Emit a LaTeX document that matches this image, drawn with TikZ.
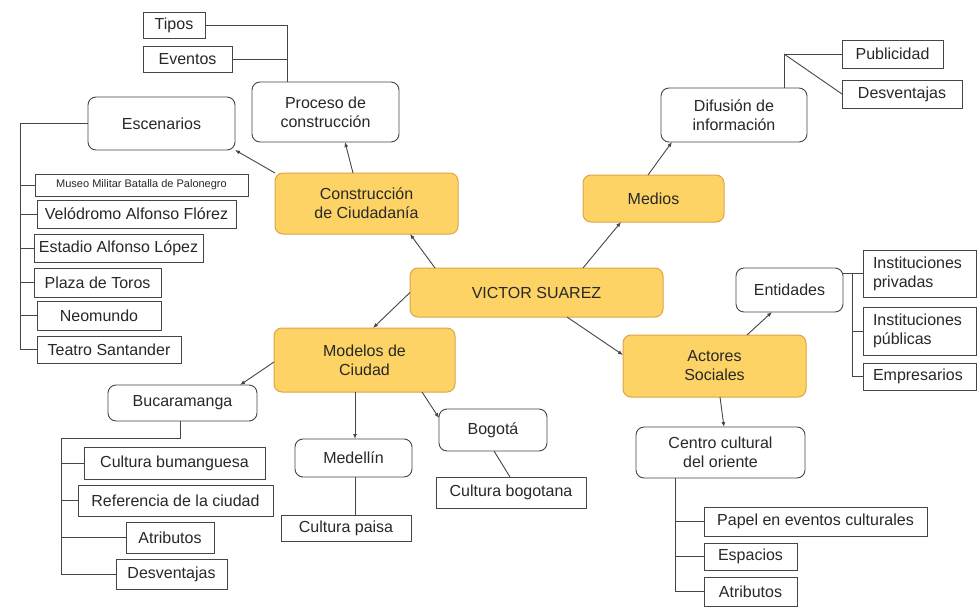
\documentclass[tikz,border=0pt]{standalone}
\usepackage{fontspec}
\setmainfont{Liberation Sans}
\usetikzlibrary{arrows.meta,calc}
\definecolor{yfill}{RGB}{252,211,100}
\definecolor{ydraw}{RGB}{222,165,70}
\definecolor{lgray}{RGB}{70,70,70}
\definecolor{tcol}{RGB}{40,40,40}
\begin{document}
\begin{tikzpicture}[x=1pt,y=-1pt,
  every node/.style={inner sep=0pt,outer sep=0pt,align=center,text=tcol,font=\fontsize{16}{19}\selectfont},
  ybox/.style={draw=ydraw,fill=yfill,rounded corners=8pt,line width=1pt},
  wbox/.style={draw=lgray,fill=white,rounded corners=8pt,line width=0.9pt},
  rbox/.style={draw=lgray,fill=white,line width=0.9pt},
  conn/.style={draw=lgray,line width=0.9pt},
  arr/.style={conn,-{Latex[length=5pt,width=4pt]}}]
\useasboundingbox (0,0) rectangle (977,615);
\fill[white] (0,0) rectangle (977,615);
% central yellow nodes
\node[ybox,minimum width=183pt,minimum height=61pt] (cc) at (366.5,203.5) {Construcción\\de Ciudadanía};
\node[ybox,minimum width=141pt,minimum height=47pt] (med) at (653.5,198.5) {Medios};
\node[ybox,minimum width=253pt,minimum height=49pt] (vs) at (536.5,292.5) {VICTOR SUAREZ};
\node[ybox,minimum width=181pt,minimum height=64pt] (mc) at (364.5,360) {Modelos de\\Ciudad};
\node[ybox,minimum width=183pt,minimum height=62pt] (as) at (714.5,366) {Actores\\Sociales};
% white rounded
\node[wbox,minimum width=147pt,minimum height=60pt] (proc) at (325.5,112) {Proceso de\\construcción};
\node[wbox,minimum width=147pt,minimum height=53pt] (esc) at (161.5,123.5) {Escenarios};
\node[wbox,minimum width=146pt,minimum height=54pt] (dif) at (734,115) {Difusión de\\información};
\node[wbox,minimum width=107pt,minimum height=44pt] (ent) at (789.5,290) {Entidades};
\node[wbox,minimum width=169pt,minimum height=51pt] (ccult) at (720.5,452.5) {Centro cultural\\del oriente};
\node[wbox,minimum width=149pt,minimum height=36pt] (buc) at (182.5,403) {Bucaramanga};
\node[wbox,minimum width=117pt,minimum height=38pt] (medl) at (353.5,458) {Medellín};
\node[wbox,minimum width=108pt,minimum height=42pt] (bog) at (493,430) {Bogotá};
% rectangles
\node[rbox,minimum width=62pt,minimum height=26pt] (tipos) at (174,25) {Tipos};
\node[rbox,minimum width=89pt,minimum height=26pt] (event) at (187.5,59) {Eventos};
\node[rbox,minimum width=213pt,minimum height=22pt,font=\fontsize{11}{13}\selectfont] (museo) at (141.5,185) {Museo Militar Batalla de Palonegro};
\node[rbox,minimum width=199pt,minimum height=28pt] (velo) at (136.5,214) {Velódromo Alfonso Flórez};
\node[rbox,minimum width=169pt,minimum height=28pt] (estadio) at (118.5,248) {Estadio Alfonso López};
\node[rbox,minimum width=127pt,minimum height=29pt] (plaza) at (97.5,282.5) {Plaza de Toros};
\node[rbox,minimum width=124pt,minimum height=29pt] (neo) at (99,315.5) {Neomundo};
\node[rbox,minimum width=144pt,minimum height=27pt] (teatro) at (109,349.5) {Teatro Santander};
\node[rbox,minimum width=101pt,minimum height=28pt] (publ) at (892.5,54) {Publicidad};
\node[rbox,minimum width=120pt,minimum height=28pt] (desv1) at (902,94) {Desventajas};
\node[rbox,minimum width=113pt,minimum height=47pt,align=left,text width=93pt,inner xsep=10pt] (ipriv) at (919.5,273.5) {Instituciones\\privadas};
\node[rbox,minimum width=113pt,minimum height=48pt,align=left,text width=93pt,inner xsep=10pt] (ipub) at (919.5,331) {Instituciones\\públicas};
\node[rbox,minimum width=113pt,minimum height=27pt,align=left,text width=93pt,inner xsep=10pt] (empr) at (919.5,376.5) {Empresarios};
\node[rbox,minimum width=223pt,minimum height=29pt] (papel) at (815.5,521.5) {Papel en eventos culturales};
\node[rbox,minimum width=93pt,minimum height=27pt] (esp) at (750.5,556.5) {Espacios};
\node[rbox,minimum width=93pt,minimum height=29pt] (atr2) at (750.5,591.5) {Atributos};
\node[rbox,minimum width=181pt,minimum height=32pt] (cbum) at (174.5,463) {Cultura bumanguesa};
\node[rbox,minimum width=195pt,minimum height=31pt] (ref) at (175.5,500.5) {Referencia de la ciudad};
\node[rbox,minimum width=88pt,minimum height=31pt] (atr1) at (170,537.5) {Atributos};
\node[rbox,minimum width=111pt,minimum height=30pt] (desv2) at (171.5,574) {Desventajas};
\node[rbox,minimum width=130pt,minimum height=26pt] (paisa) at (346,528) {Cultura paisa};
\node[rbox,minimum width=150pt,minimum height=31pt] (cbog) at (511,492.5) {Cultura bogotana};
% arrows from center
\draw[arr] ($(vs.north west)+(25,0)$) -- ($(cc.south west)+(135,0)$);
\draw[arr] ($(vs.north west)+(173,0)$) -- ($(med.south west)+(38,0)$);
\draw[arr] (vs.west) -- ($(mc.north west)+(99,0)$);
\draw[arr] ($(vs.south west)+(157,0)$) -- ($(as.north west)+(0,20)$);
\draw[arr] (cc.north west) -- (esc.south east);
\draw[arr] ($(cc.north west)+(78,0)$) -- ($(proc.south west)+(93,0)$);
\draw[arr] ($(med.north west)+(65,0)$) -- ($(dif.south west)+(11,0)$);
\draw[arr] ($(mc.west)+(0,2)$) -- ($(buc.north east)+(-17,0)$);
\draw[arr] ($(mc.south west)+(81,0)$) -- ($(medl.north west)+(60,0)$);
\draw[arr] ($(mc.south west)+(148,0)$) -- ($(bog.north west)+(0,9)$);
\draw[arr] ($(as.north west)+(124,0)$) -- ($(ent.south west)+(36,0)$);
\draw[arr] ($(as.south west)+(97,0)$) -- ($(ccult.north west)+(88,0)$);
% plain connectors
\coordinate (pj) at ($(proc.north west)+(35,0)$);
\draw[conn] (tipos.east) -| (pj);
\draw[conn] (event.east) -- (event.east -| pj);
\coordinate (sl) at (20,0);
\draw[conn] (esc.west) -- (esc.west -| sl) |- (teatro.west);
\foreach \n in {museo,velo,estadio,plaza,neo} \draw[conn] (sl |- \n.west) -- (\n.west);
\coordinate (dj) at (784,54);
\draw[conn] ($(dif.north west)+(123,0)$) -- (dj) -- (publ.west);
\draw[conn] (dj) -- (desv1.west);
\coordinate (ej) at (852,0);
\draw[conn] (ent.east |- ipriv.west) -- (ipriv.west);
\draw[conn] (ej |- ipriv.west) |- (empr.west);
\draw[conn] (ej |- ipub.west) -- (ipub.west);
\coordinate (cj) at ($(ccult.south west)+(39,0)$);
\draw[conn] (cj) |- (atr2.west);
\draw[conn] (cj |- papel.west) -- (papel.west);
\draw[conn] (cj |- esp.west) -- (esp.west);
\coordinate (bj) at ($(buc.south west)+(72,0)$);
\coordinate (bl) at (61,438);
\draw[conn] (bj) -- (bj |- bl) -- (bl) |- (desv2.west);
\foreach \n in {cbum,ref,atr1} \draw[conn] (bl |- \n.west) -- (\n.west);
\coordinate (mj) at ($(medl.south west)+(60,0)$);
\draw[conn] (mj) -- (mj |- paisa.north);
\draw[conn] ($(bog.south west)+(55,0)$) -- ($(cbog.north west)+(74,0)$);
\end{tikzpicture}
\end{document}
